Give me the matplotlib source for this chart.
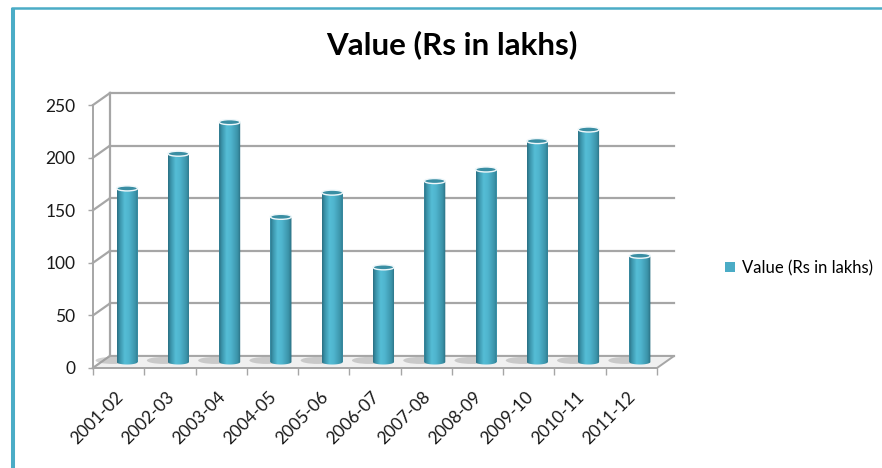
import numpy as np
import matplotlib.pyplot as plt
from matplotlib.colors import LinearSegmentedColormap
from matplotlib.patches import Ellipse, Polygon, PathPatch
from matplotlib.path import Path
from matplotlib.lines import Line2D
from matplotlib.transforms import ScaledTranslation

# data
years = ['2001-02', '2002-03', '2003-04', '2004-05', '2005-06', '2006-07',
         '2007-08', '2008-09', '2009-10', '2010-11', '2011-12']
values = [165, 198, 228, 138, 161, 90, 172, 183, 210, 221, 101]
y_ticks = [0, 50, 100, 150, 200, 250]
title = 'Value (Rs in lakhs)'
series_name = 'Value (Rs in lakhs)'

W, H = 882, 468
teal = '#4bacc6'
grid_c = '#a6a6a6'
font = 'Lato'

fig = plt.figure(figsize=(W / 100, H / 100), dpi=100)
ax = fig.add_axes([93 / W, 1 - 368 / H, 564 / W, 263 / H])
n = len(years)
ymax = y_ticks[-1]

# pixel offsets -> data units (front plane is the axes)
sx = 564 / n
sy = 263 / ymax
bx, by = 17 / sx, 12 / sy      # back wall
mx, my = 8.5 / sx, 6 / sy      # bars sit mid depth
eh = 5 / sy                    # ellipse height of cylinder caps

#
# walls and floor
#
for v in y_ticks:
    ax.plot([bx, n + bx], [v + by, v + by], color=grid_c, lw=1.6, clip_on=False, zorder=1)
    ax.plot([0, bx], [v, v + by], color=grid_c, lw=1.6, clip_on=False, zorder=1)
ax.plot([bx, bx], [by, ymax + by], color=grid_c, lw=1.6, clip_on=False, zorder=1)

floor = Polygon([(0, 0), (n, 0), (n + bx, by), (bx, by)], closed=True,
                facecolor='#f0f0f0', edgecolor=grid_c, lw=1.4, clip_on=False, zorder=1.5)
ax.add_patch(floor)

#
# cylinders
#
cyl = LinearSegmentedColormap.from_list('cyl', [
    (0.0, '#2a7083'), (0.12, '#3a93a9'), (0.35, '#55bdd6'),
    (0.55, '#4fb4cd'), (0.85, '#3b93a9'), (1.0, '#2a6e80')])
grad = np.linspace(0, 1, 64).reshape(1, -1)

centers = np.arange(n) + 0.5 + mx
bars = ax.bar(centers, values, width=0.41, bottom=my, color=teal,
              label=series_name, zorder=3)

for rect in bars:
    x0, w = rect.get_x(), rect.get_width()
    y0, h = rect.get_y(), rect.get_height()
    c = x0 + w / 2

    # shadow on the floor
    ax.add_patch(Ellipse((c - w * 0.7, y0 + 1.5), w * 1.6, eh * 1.4,
                         facecolor='#9a9a9a', alpha=0.45, lw=0, zorder=2))

    th = np.linspace(np.pi, 2 * np.pi, 40)
    verts = [(x0, y0 + h), (x0, y0)]
    verts += list(zip(c + w / 2 * np.cos(th), y0 + eh / 2 * np.sin(th)))
    verts += [(x0 + w, y0 + h), (x0, y0 + h)]
    codes = [Path.MOVETO] + [Path.LINETO] * (len(verts) - 2) + [Path.CLOSEPOLY]
    outline = PathPatch(Path(verts, codes), facecolor='none', edgecolor='none', zorder=3)
    ax.add_patch(outline)

    im = ax.imshow(grad, cmap=cyl, aspect='auto', interpolation='bilinear',
                   extent=(x0, x0 + w, y0 - eh, y0 + h), zorder=3.2)
    im.set_clip_path(outline)

    ax.add_patch(Ellipse((c, y0 + h), w, eh, facecolor='#3a8ea3',
                         edgecolor='#eef7fa', lw=1.0, zorder=4))

ax.set_xlim(0, n)
ax.set_ylim(0, ymax)

#
# axes and ticks
#
for s in ['top', 'right']:
    ax.spines[s].set_visible(False)
for s in ['left', 'bottom']:
    ax.spines[s].set_color(grid_c)
    ax.spines[s].set_linewidth(1.4)

ax.set_yticks(y_ticks)
ax.set_yticklabels([str(v) for v in y_ticks], fontsize=12.5, family=font, color='#1a1a1a')
ax.tick_params(axis='y', length=3.6, width=1, color=grid_c, pad=9)

ax.set_xticks(np.arange(n + 1))
ax.set_xticklabels([])
ax.tick_params(axis='x', which='major', length=5, width=1, color=grid_c)
ax.set_xticks(np.arange(n) + 0.5, minor=True)
ax.set_xticklabels(years, minor=True, rotation=45, ha='right', rotation_mode='anchor',
                   fontsize=12.5, family=font, color='#1a1a1a')
ax.tick_params(axis='x', which='minor', length=0, pad=15)
for lab in ax.get_xticklabels(minor=True):
    lab.set_transform(lab.get_transform() + ScaledTranslation(-0.04, 0, fig.dpi_scale_trans))

ax.patch.set_visible(False)

fig.text(452 / W, 1 - 45 / H, title, ha='center', va='center',
         fontsize=22.5, fontweight='bold', family=font, color='black')

leg = fig.legend(handles=[bars], labels=[series_name], loc='center left',
                 bbox_to_anchor=(710 / W, 1 - 268 / H), frameon=False,
                 handlelength=0.6, handleheight=0.6, handletextpad=0.4,
                 prop={'family': font, 'size': 12})

# frame edges
fig.add_artist(Line2D([13 / W, 13 / W], [0, 1 - 8 / H], color=teal, lw=2.9,
                      solid_capstyle='butt'))
fig.add_artist(Line2D([11 / W, 1], [1 - 8 / H, 1 - 8 / H], color=teal, lw=1.8,
                      solid_capstyle='butt'))

fig.savefig('out.png', dpi=100)
